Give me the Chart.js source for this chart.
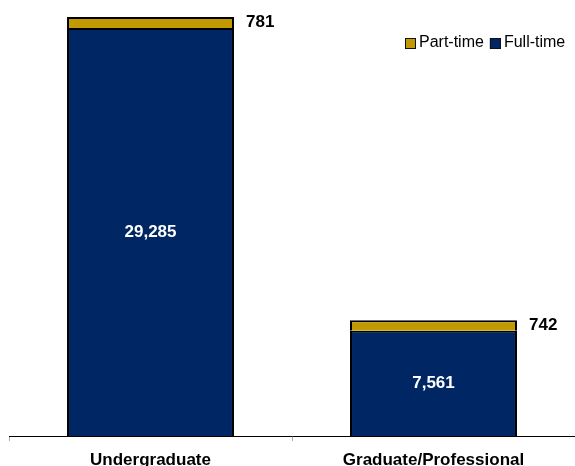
<!DOCTYPE html>
<html>
<head>
<meta charset="utf-8">
<script src="https://cdn.jsdelivr.net/npm/chart.js@4.4.0/dist/chart.umd.min.js"></script>
<style>
  html, body { margin: 0; padding: 0; background: #fff; }
  #wrap { width: 575px; height: 466px; }
</style>
</head>
<body>
<div id="wrap"><canvas id="enrollChart"></canvas></div>
<script>
// enrollment by level
const categories = ['Undergraduate', 'Graduate/Professional'];
const fullTime = [29285, 7561];
const partTime = [781, 742];

const navy = '#002663';
const gold = '#C09A00';
const fontName = '"Liberation Sans", Arial, sans-serif';

// value labels: white inside full-time, black to the right of part-time
const valueLabels = {
    id: 'valueLabels',
    afterDatasetsDraw(chart) {
        const ctx = chart.ctx;
        ctx.save();
        ctx.font = 'bold 17px ' + fontName;
        ctx.textBaseline = 'middle';
        chart.getDatasetMeta(0).data.forEach((bar, i) => {
            ctx.fillStyle = '#fff';
            ctx.textAlign = 'center';
            ctx.fillText(fullTime[i].toLocaleString('en-US'), bar.x, (bar.y + bar.base) / 2);
        });
        chart.getDatasetMeta(1).data.forEach((bar, i) => {
            ctx.fillStyle = '#000';
            ctx.textAlign = 'left';
            ctx.fillText(partTime[i].toLocaleString('en-US'), bar.x + bar.width / 2 + 12, (bar.y + bar.base) / 2);
        });
        ctx.restore();
    }
};

// legend sitting inside the plot, top right
const cornerLegend = {
    id: 'cornerLegend',
    afterDraw(chart) {
        const ctx = chart.ctx;
        ctx.save();
        ctx.font = '16px ' + fontName;
        ctx.textBaseline = 'middle';
        ctx.textAlign = 'left';
        const items = [
            { text: 'Part-time', color: gold },
            { text: 'Full-time', color: navy }
        ];
        let x = 405;
        const y = 43;
        items.forEach(it => {
            ctx.fillStyle = it.color;
            ctx.fillRect(x, y - 5, 11, 11);
            ctx.strokeStyle = '#111';
            ctx.lineWidth = 1;
            ctx.strokeRect(x + 0.5, y - 4.5, 10, 10);
            ctx.fillStyle = '#000';
            ctx.fillText(it.text, x + 14, y);
            x += 14 + ctx.measureText(it.text).width + 6;
        });
        ctx.restore();
    }
};

new Chart(document.getElementById('enrollChart'), {
    type: 'bar',
    data: {
        labels: categories,
        datasets: [
            { label: 'Full-time', data: fullTime, backgroundColor: navy, borderColor: '#000', borderWidth: 2 },
            { label: 'Part-time', data: partTime, backgroundColor: gold, borderColor: '#000', borderWidth: 2 }
        ]
    },
    options: {
        responsive: true,
        maintainAspectRatio: false,
        animation: false,
        layout: { padding: { left: 9, right: -3, top: 4, bottom: -14 } },
        datasets: { bar: { barPercentage: 0.59, categoryPercentage: 1 } },
        plugins: {
            legend: { display: false },
            tooltip: { enabled: false }
        },
        scales: {
            x: {
                stacked: true,
                grid: { display: true, drawOnChartArea: false, tickLength: 5, color: '#aaa' },
                border: { color: '#000', width: 1 },
                ticks: {
                    color: '#000',
                    padding: 11,
                    font: { family: fontName, size: 17, weight: 'bold', lineHeight: 1 }
                }
            },
            y: {
                stacked: true,
                display: false,
                min: 0,
                max: 31000
            }
        }
    },
    plugins: [valueLabels, cornerLegend]
});
</script>
</body>
</html>
